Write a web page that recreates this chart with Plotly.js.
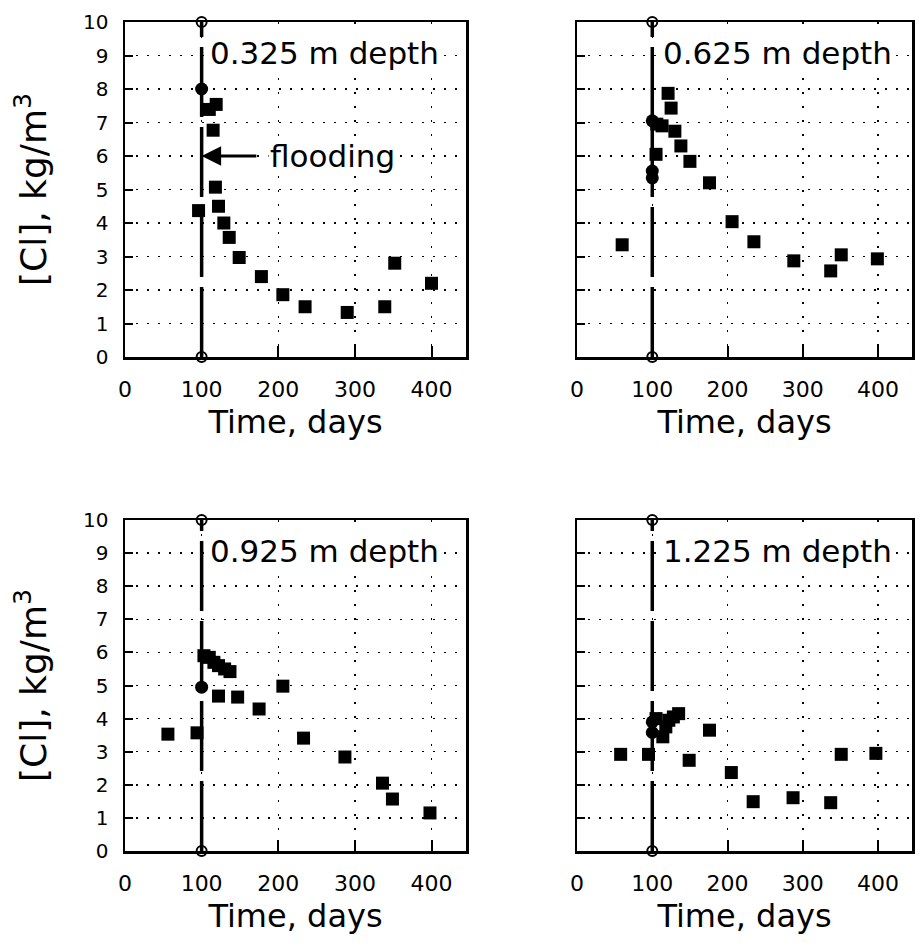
<!DOCTYPE html>
<html>
<head>
<meta charset="utf-8">
<script src="https://cdn.plot.ly/plotly-3.0.1.min.js"></script>
<style>html,body{margin:0;padding:0;background:#fff;}#chart{width:919px;height:947px;}</style>
</head>
<body>
<div id="chart"></div>
<script>
// ---- data ----
const depthLabels = ["0.325 m depth", "0.625 m depth", "0.925 m depth", "1.225 m depth"];
const floodDay = 100;
const floodRange = [0, 10];
const xTicks = [0, 100, 200, 300, 400];
const yTicks = [0, 1, 2, 3, 4, 5, 6, 7, 8, 9, 10];

const d1Days = [96, 100, 110, 119, 115, 118, 122, 129, 136, 149, 178, 206, 235, 290, 339, 352, 400];
const d1Cl   = [4.37, 8.0, 7.39, 7.54, 6.77, 5.07, 4.5, 4.0, 3.57, 2.97, 2.4, 1.86, 1.5, 1.33, 1.5, 2.8, 2.2];

const d2Days = [60, 100, 106, 113, 105, 100, 100, 121, 125, 130, 138, 150, 176, 206, 235, 288, 337, 351, 399];
const d2Cl   = [3.35, 7.05, 6.95, 6.9, 6.05, 5.55, 5.35, 7.87, 7.43, 6.74, 6.3, 5.84, 5.2, 4.04, 3.44, 2.87, 2.57, 3.05, 2.93];

const d3Days = [56, 94, 100, 103, 110, 116, 122, 130, 137, 122, 147, 175, 206, 233, 287, 336, 349, 398];
const d3Cl   = [3.53, 3.57, 4.95, 5.9, 5.85, 5.7, 5.6, 5.5, 5.42, 4.68, 4.65, 4.29, 4.98, 3.41, 2.84, 2.05, 1.57, 1.15];

const d4Days = [58, 95, 100, 100, 105, 114, 118, 122, 128, 135, 149, 176, 205, 234, 287, 337, 351, 397];
const d4Cl   = [2.92, 2.92, 3.58, 3.9, 4.0, 3.45, 3.75, 3.95, 4.05, 4.15, 2.74, 3.65, 2.37, 1.49, 1.61, 1.46, 2.92, 2.95];

const xTitle = "Time, days";
const yTitle = "[Cl], kg/m<sup>3</sup>";
const floodText = "flooding";

// ---- build ----
const FONT = "DejaVu Sans";
const series = [[d1Days, d1Cl], [d2Days, d2Cl], [d3Days, d3Cl], [d4Days, d4Cl]];
const axIds = [["x", "y"], ["x2", "y2"], ["x3", "y3"], ["x4", "y4"]];
const traces = [];
series.forEach((s, i) => {
  const [xa, ya] = axIds[i];
  traces.push({
    type: "scatter", mode: "lines+markers", xaxis: xa, yaxis: ya,
    x: [floodDay, floodDay], y: floodRange, cliponaxis: false, showlegend: false,
    line: {color: "#000", width: 3.5, dash: "70px,10px"},
    marker: {symbol: "circle-open", size: 10, color: "#000", line: {width: 2, color: "#000"}},
    hoverinfo: "skip"
  });
  traces.push({
    type: "scatter", mode: "markers", xaxis: xa, yaxis: ya,
    x: s[0], y: s[1], showlegend: false, cliponaxis: false,
    marker: {symbol: s[0].map(v => v === floodDay ? "circle" : "square"), size: 13, color: "#000"}
  });
});

const xDomL = [125 / 919, 466 / 919], xDomR = [577 / 919, 912 / 919];
const yDomT = [1 - 357 / 947, 1 - 22 / 947], yDomB = [1 - 851 / 947, 1 - 520 / 947];

function xAxis(dom, anchor) {
  return {
    domain: dom, anchor: anchor, range: [0, 445], tickvals: xTicks, ticktext: xTicks.map(String),
    ticks: "inside", ticklen: 11, tickwidth: 2, tickcolor: "#000",
    showline: true, linewidth: 2.5, linecolor: "#000", mirror: true,
    showgrid: true, gridcolor: "#000", gridwidth: 1.5, griddash: "2px,12px", zeroline: false,
    tickfont: {family: FONT, size: 22, color: "#000"}, ticklabelstandoff: 11,
    title: {text: xTitle, font: {family: FONT, size: 32, color: "#000"}, standoff: 10},
    fixedrange: true
  };
}
function yAxis(dom, anchor, labels) {
  const ax = {
    domain: dom, anchor: anchor, range: [0, 10], tickvals: yTicks, ticktext: yTicks.map(String),
    ticks: "inside", ticklen: 8, tickwidth: 2, tickcolor: "#000",
    showline: true, linewidth: 2.5, linecolor: "#000", mirror: true,
    showgrid: true, gridcolor: "#000", gridwidth: 1.5, griddash: "2px,9px", zeroline: false,
    showticklabels: labels, tickfont: {family: FONT, size: 20, color: "#000"}, ticklabelstandoff: 10,
    fixedrange: true
  };
  if (labels) ax.title = {text: yTitle, font: {family: FONT, size: 36, color: "#000"}, standoff: 26};
  return ax;
}

const annotations = [];
const labelX = [108, 112, 108, 112];
depthLabels.forEach((t, i) => {
  annotations.push({
    xref: axIds[i][0], yref: axIds[i][1], x: labelX[i], y: 9.07, xanchor: "left", yanchor: "middle",
    text: t, showarrow: false, bgcolor: "#fff", borderpad: 1,
    font: {family: FONT, size: 31, color: "#000"}
  });
});
annotations.push({
  xref: "x", yref: "y", axref: "x", ayref: "y", x: floodDay, y: 6, ax: 187, ay: 6,
  xanchor: "left", yanchor: "middle",
  text: floodText, showarrow: true, arrowhead: 2, arrowsize: 1.3, arrowwidth: 3, arrowcolor: "#000",
  startstandoff: 12, bgcolor: "#fff", borderpad: 1,
  font: {family: FONT, size: 31, color: "#000"}
});

const layout = {
  width: 919, height: 947, margin: {l: 0, r: 0, t: 0, b: 0},
  paper_bgcolor: "#fff", plot_bgcolor: "#fff", showlegend: false,
  font: {family: FONT, color: "#000"},
  xaxis: xAxis(xDomL, "y"), yaxis: yAxis(yDomT, "x", true),
  xaxis2: xAxis(xDomR, "y2"), yaxis2: yAxis(yDomT, "x2", false),
  xaxis3: xAxis(xDomL, "y3"), yaxis3: yAxis(yDomB, "x3", true),
  xaxis4: xAxis(xDomR, "y4"), yaxis4: yAxis(yDomB, "x4", false),
  annotations: annotations
};

Plotly.newPlot("chart", traces, layout, {staticPlot: true, displayModeBar: false});
</script>
</body>
</html>
